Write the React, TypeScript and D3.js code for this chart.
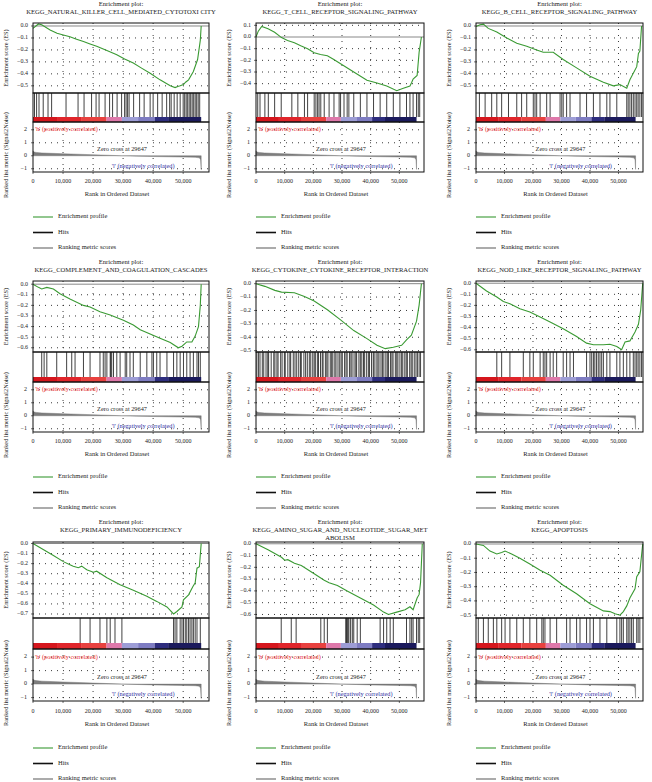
import React from 'react';
import * as d3 from 'd3';

// ---------- DATA ----------
const titles: string[][] = [
  ['Enrichment plot:', 'KEGG_NATURAL_KILLER_CELL_MEDIATED_CYTOTOXI CITY'],
  ['Enrichment plot:', 'KEGG_T_CELL_RECEPTOR_SIGNALING_PATHWAY'],
  ['Enrichment plot:', 'KEGG_B_CELL_RECEPTOR_SIGNALING_PATHWAY'],
  ['Enrichment plot:', 'KEGG_COMPLEMENT_AND_COAGULATION_CASCADES'],
  ['Enrichment plot:', 'KEGG_CYTOKINE_CYTOKINE_RECEPTOR_INTERACTION'],
  ['Enrichment plot:', 'KEGG_NOD_LIKE_RECEPTOR_SIGNALING_PATHWAY'],
  ['Enrichment plot:', 'KEGG_PRIMARY_IMMUNODEFICIENCY'],
  ['Enrichment plot:', 'KEGG_AMINO_SUGAR_AND_NUCLEOTIDE_SUGAR_MET', 'ABOLISM'],
  ['Enrichment plot:', 'KEGG_APOPTOSIS'],
];

// ES curves: [rank (thousands), enrichment score]
const es1 = [[0,-0.02],[1.8,0.017],[2.9,0.01],[5.7,-0.033],[8,-0.06],[10.1,-0.075],[12.3,-0.09],[14.5,-0.11],[16.8,-0.13],[19,-0.15],[21.2,-0.17],[24.6,-0.205],[27.9,-0.24],[30.5,-0.275],[33.4,-0.31],[36,-0.35],[39,-0.395],[42.3,-0.45],[45.7,-0.5],[47.3,-0.515],[48.2,-0.505],[49,-0.5],[50.1,-0.49],[50.8,-0.47],[51.8,-0.45],[53.4,-0.38],[54.8,-0.28],[55.7,-0.12],[56,0]];
const es2 = [[0,0],[0.8,0.05],[2,0.09],[4.2,0.07],[6.5,0.04],[8.9,-0.005],[11,-0.03],[13.4,-0.05],[15.6,-0.075],[18,-0.1],[20.3,-0.135],[22.5,-0.15],[24.9,-0.16],[27,-0.19],[29.5,-0.23],[34.1,-0.3],[38.7,-0.37],[42.2,-0.395],[45.6,-0.42],[49.1,-0.46],[51.4,-0.44],[53.7,-0.42],[54.3,-0.39],[54.8,-0.36],[56.2,-0.33],[56.9,-0.13],[57.7,0]];
const es3 = [[0,-0.005],[1.4,0.01],[2.6,0.015],[4.3,-0.02],[7.3,-0.05],[10.8,-0.1],[14.3,-0.145],[17.8,-0.17],[21.3,-0.2],[23.6,-0.22],[27.1,-0.22],[30.6,-0.28],[35.3,-0.35],[40,-0.42],[44.7,-0.47],[48.2,-0.5],[50.5,-0.49],[52.9,-0.52],[54,-0.45],[56.4,-0.34],[57,-0.23],[57.5,-0.21],[58.1,0]];
const es4 = [[0,0],[1.8,-0.03],[2.9,-0.045],[4.6,-0.03],[6.8,-0.045],[9,-0.09],[12.3,-0.14],[16.8,-0.2],[19,-0.215],[22.3,-0.26],[25.7,-0.29],[30.1,-0.34],[33.4,-0.385],[35.7,-0.43],[39,-0.47],[42.3,-0.51],[45.7,-0.55],[48.4,-0.6],[49.6,-0.585],[51.2,-0.545],[52.9,-0.545],[54,-0.49],[55.1,-0.4],[55.7,-0.2],[56,0]];
const es5 = [[0,0],[3.1,-0.02],[6.6,-0.05],[8.9,-0.063],[13.4,-0.068],[16.9,-0.095],[20.3,-0.13],[24.9,-0.195],[29.5,-0.27],[34.1,-0.35],[38.7,-0.41],[42.2,-0.46],[45.1,-0.485],[47.9,-0.475],[50.8,-0.46],[52.5,-0.42],[54.2,-0.385],[56,-0.28],[56.9,-0.16],[57.7,0]];
const es6 = [[0,0],[3.7,-0.07],[7.3,-0.125],[9.6,-0.165],[11.9,-0.185],[15.4,-0.23],[18.9,-0.26],[22.5,-0.305],[26,-0.35],[30.6,-0.41],[35.3,-0.48],[38.8,-0.54],[41.2,-0.555],[44.7,-0.555],[47,-0.55],[49.4,-0.57],[51.1,-0.6],[52.3,-0.53],[54,-0.52],[55.8,-0.44],[57,-0.37],[57.8,-0.24],[58.5,0]];
const es7 = [[0,0],[3.4,-0.06],[6.8,-0.12],[10.1,-0.18],[12.3,-0.21],[13.4,-0.225],[15.1,-0.24],[16.2,-0.225],[17.9,-0.26],[20.1,-0.285],[21.2,-0.275],[24.6,-0.34],[29,-0.41],[33.4,-0.465],[37.9,-0.525],[41.2,-0.575],[44.6,-0.63],[46.8,-0.7],[47.9,-0.675],[49.6,-0.63],[50.1,-0.56],[51.8,-0.51],[53.2,-0.43],[54,-0.39],[54.6,-0.245],[55.4,-0.23],[56,0]];
const es8 = [[0,0],[4.2,-0.05],[8.9,-0.115],[10,-0.14],[11.1,-0.135],[13.4,-0.165],[15.8,-0.185],[20.3,-0.255],[23.8,-0.31],[25.5,-0.33],[28.4,-0.355],[31.8,-0.4],[36.4,-0.46],[41,-0.52],[44.5,-0.58],[46.2,-0.6],[49.1,-0.58],[52,-0.56],[53.7,-0.535],[54.8,-0.56],[56.2,-0.46],[56.9,-0.43],[57.4,-0.33],[58,0]];
const es9 = [[0,0],[2.6,-0.01],[4.9,-0.05],[7.3,-0.07],[9,-0.06],[10.2,-0.05],[12.5,-0.07],[15.4,-0.1],[18.9,-0.14],[22.5,-0.185],[26,-0.22],[30.6,-0.29],[35.3,-0.35],[40,-0.42],[44.7,-0.47],[47,-0.475],[48.8,-0.49],[50.5,-0.5],[51.7,-0.475],[52.9,-0.435],[54,-0.38],[55.8,-0.315],[56.4,-0.23],[57.5,-0.195],[58.5,0]];

// hit positions (rank, thousands)
const hits1 = [0.5,1.2,2,3.4,5,6.2,11,15,17,19.5,21,22,24,25.5,26.5,28,29.5,30.5,31,31.5,32,33.5,35.5,37,39,40,41.5,43,44.5,45.5,46,47,48,49,50,50.5,51,51.5,52,52.5,53,53.5,54,54.5,55,55.5];
const hits2 = [0.6,1.4,3.1,4.3,6.5,8.8,12.5,14.6,16.9,18,20.3,20.9,21.5,22,22.6,23.8,25.5,27.2,29,29.5,30.7,31.8,32.4,34.1,36.4,38.7,41,43.3,45.6,47.9,50.2,52.5,53.7,54.8,56,56.6,57.1];
const hits3 = [1.2,3.2,5.5,7.3,9,11.4,14.3,16,17.8,20.1,20.7,21.3,22.5,24.8,26,29.5,30.1,30.6,31.8,33,36.5,38.8,41.2,43.5,45.9,47,49.4,52.9,53.4,54,54.6,55.2,55.8,56.4,56.9,57.5,58.1];
const hits4 = [2.9,3.7,4.6,7.9,11.2,12.9,14,16.8,19,22.3,23.4,24,24.6,25.7,25.9,26.2,26.8,27.9,29,30.7,31.2,32.3,33.4,35.7,37.9,39.6,40.1,41.2,42.3,44.6,46.8,47.9,49,50.1,51.2,52.3,53.4,54.6,55.1,55.7];
const hits5 = [0.3,0.9,1.4,2.2,2.7,3.5,4.1,4.4,5.3,6.2,6.6,7.3,7.7,8.6,9.1,9.9,10.2,11.1,11.8,12.1,13,13.6,14.2,14.9,15.5,15.8,16.7,17.3,17.9,18.6,19.1,19.8,20.3,20.7,21.4,21.8,22.5,23.1,23.4,24.2,24.7,25.1,25.9,26.4,26.8,27.5,27.9,28.6,29.2,29.7,30.1,30.9,31.4,31.8,32.6,33.1,33.5,34.2,34.8,35.1,35.9,36.4,36.9,37.5,37.9,38.6,39.2,39.6,40.3,40.9,41.2,41.9,42.5,42.9,43.6,44.1,44.6,45.3,45.8,46.2,46.9,47.4,47.8,48.6,49.1,49.5,50.2,50.8,51.2,51.9,52.4,52.8,53.6,54.1,54.5,55.2,55.8,56.3,56.9,57.4];
const hits6 = [7.3,9,11.9,16.6,18.9,20.1,22.5,23.6,24.2,24.8,26,27.1,28.3,30.6,31.8,33,34.2,38.8,40,40.6,41.2,41.7,42.3,42.9,43.5,44.1,44.7,45.9,47,49.4,50.5,51.7,52.9,54,55.2,55.8,56.4,56.9,57.5,58.1];
const hits7 = [15.7,19,22.3,24.6,25.7,27.3,29.6,46.8,47.3,47.9,49,49.6,50.1,50.7,51.2,51.8,52.3,52.9,53.4,54,54.6,55.7];
const hits8 = [8.8,12.3,14,22.6,23.8,24.9,31.3,31.6,31.8,32.1,32.4,33,33.6,34.1,35.3,36.4,43.3,44.5,45.6,46.8,47.9,52.5,53.7,54.3,54.8,56,56.6,57.1];
const hits9 = [0.8,2.6,4.3,6.1,7.3,9,10.2,11.9,14.3,16.6,18.9,21.3,23.1,23.6,24.2,26,28.3,31.8,33,35.3,36.5,38.8,40,41.2,43.5,45.9,49.4,50.5,51.1,51.7,52.9,53.4,54,54.6,55.2,56.4,56.9,57.5];

// ES axis domains [top, bottom] and tick values
const esDomainTop = [0.025, 0.12, 0.025, 0.03, 0.02, 0.02, 0.015, 0.015, 0.014];
const esDomainBottom = [-0.56, -0.48, -0.56, -0.64, -0.51, -0.62, -0.74, -0.63, -0.52];
const esTickMax = [0.0, 0.1, 0.0, 0.0, 0.0, 0.0, 0.0, 0.0, 0.0];
const esTickMin = [-0.5, -0.4, -0.5, -0.6, -0.5, -0.6, -0.7, -0.6, -0.5];

// ranked list metric (rank thousands, signal2noise)
const rankMetric = [[0,0.38],[0.2,0.3],[1,0.26],[3,0.22],[6,0.19],[10,0.16],[15,0.12],[20,0.08],[25,0.04],[29.647,0],[35,-0.03],[40,-0.06],[45,-0.08],[50,-0.1],[54,-0.12],[55.4,-0.16],[55.8,-0.3],[56,-1.05]];
const datasetSize = 56; // thousands
const xDomainMax = 58.6;
const xTicks = [0, 10000, 20000, 30000, 40000, 50000];
const rankTicks = [2, 1, 0, -1];

// colour bar segments
const cbStops = [0, 8, 16, 24.5, 29.6, 35, 40.5, 45, 56];
const cbColors = ['#d5161d', '#e0252b', '#e8413f', '#de78aa', '#9d9dd6', '#7e7cc2', '#2e2d7e', '#1b1a5c'];

const legendLabels = ['Enrichment profile', 'Hits', 'Ranking metric scores'];

// ---------- LAYOUT ----------
const colX0 = [33, 256, 476];
const colX1 = [209, 424, 643];
const rowTitleY = [4, 262, 522];
const rowEsTop = [23, 281, 542];
const rowEsBot = [93, 352, 618];
const rowHitsBot = [117, 377, 643];
const rowCbBot = [122, 382, 649];
const rowRankBot = [172, 432, 701];
const rowTickY = [182, 442, 712];
const rowXLabelY = [195, 455, 725];
const rowLegendY = [217, 477, 748];

const FONT = '"Liberation Serif", "DejaVu Serif", serif';
const GREEN = '#3a9a33';

const esCurves = [es1, es2, es3, es4, es5, es6, es7, es8, es9];
const hitSets = [hits1, hits2, hits3, hits4, hits5, hits6, hits7, hits8, hits9];

function Panel({ i }: { i: number }) {
  const col = i % 3;
  const row = Math.floor(i / 3);
  const x0 = colX0[col], x1 = colX1[col];
  const esTop = rowEsTop[row], esBot = rowEsBot[row];
  const hitsBot = rowHitsBot[row], cbBot = rowCbBot[row], rankBot = rowRankBot[row];
  const x = d3.scaleLinear().domain([0, xDomainMax * 1000]).range([x0, x1]);
  const y = d3.scaleLinear().domain([esDomainTop[i], esDomainBottom[i]]).range([esTop, esBot]);
  const yr = d3.scaleLinear().domain([2.6, -1.25]).range([cbBot, rankBot]);
  const esTicks = d3.range(Math.round(esTickMax[i] * 10), Math.round(esTickMin[i] * 10) - 1, -1).map((v) => v / 10);
  const line = d3.line<number[]>().x((d) => x(d[0] * 1000)).y((d) => y(d[1]));
  const area = d3.area<number[]>().x((d) => x(d[0] * 1000)).y0(yr(0)).y1((d) => yr(d[1]));
  const fmt = d3.format(',');
  const cx = (x0 + x1) / 2;
  const tl = titles[i];
  const xEnd = x(datasetSize * 1000);

  return (
    <g fontFamily={FONT}>
      {tl.map((t, k) => (
        <text key={k} x={cx} y={rowTitleY[row] + k * 8} textAnchor="middle" dominantBaseline="middle" fontSize={6.6} fill="#222">{t}</text>
      ))}
      {/* ES panel grid */}
      {esTicks.filter((v) => v !== 0).map((v) => (
        <line key={'h' + v} x1={x0} x2={x1} y1={y(v)} y2={y(v)} stroke="#222" strokeWidth={0.9} strokeDasharray="1,5" />
      ))}
      {xTicks.slice(1).map((v) => (
        <line key={'v' + v} x1={x(v)} x2={x(v)} y1={esTop} y2={esBot} stroke="#222" strokeWidth={0.9} strokeDasharray="1,5" />
      ))}
      <line x1={x0} x2={x1} y1={y(0)} y2={y(0)} stroke="#888" strokeWidth={1} />
      <path d={line(esCurves[i]) || ''} fill="none" stroke={GREEN} strokeWidth={1.1} />
      <rect x={x0} y={esTop} width={x1 - x0} height={esBot - esTop} fill="none" stroke="#111" strokeWidth={1} />
      {esTicks.map((v) => (
        <g key={'t' + v}>
          <line x1={x0 - 2} x2={x0} y1={y(v)} y2={y(v)} stroke="#111" strokeWidth={0.6} />
          <text x={x0 - 5} y={y(v)} textAnchor="end" dominantBaseline="middle" fontSize={6} fill="#222">{v === 0 ? '0.0' : d3.format('.1f')(v).replace('-', '\u2212')}</text>
        </g>
      ))}
      <text transform={`translate(${x0 - 26},${(esTop + esBot) / 2}) rotate(-90)`} textAnchor="middle" dominantBaseline="middle" fontSize={6.3} fill="#222">Enrichment score (ES)</text>
      {/* hits */}
      {hitSets[i].map((h, k) => (
        <line key={'hit' + k} x1={x(h * 1000)} x2={x(h * 1000)} y1={esBot} y2={hitsBot} stroke="#111" strokeWidth={0.8} />
      ))}
      {/* colour bar */}
      {cbColors.map((c, k) => (
        <rect key={'cb' + k} x={x(cbStops[k] * 1000)} y={hitsBot} width={x(cbStops[k + 1] * 1000) - x(cbStops[k] * 1000)} height={cbBot - hitsBot} fill={c} />
      ))}
      <rect x={x0} y={esBot} width={x1 - x0} height={cbBot - esBot} fill="none" stroke="#111" strokeWidth={1} />
      {/* ranked metric */}
      {[2, 1, -1].map((v) => (
        <line key={'rh' + v} x1={x0} x2={x1} y1={yr(v)} y2={yr(v)} stroke="#222" strokeWidth={0.9} strokeDasharray="1,5" />
      ))}
      {xTicks.slice(1).map((v) => (
        <line key={'rv' + v} x1={x(v)} x2={x(v)} y1={cbBot} y2={rankBot} stroke="#222" strokeWidth={0.9} strokeDasharray="1,5" />
      ))}
      <path d={area(rankMetric) || ''} fill="#7d7d7d" stroke="#6a6a6a" strokeWidth={0.4} />
      <rect x={x0} y={cbBot} width={x1 - x0} height={rankBot - cbBot} fill="none" stroke="#111" strokeWidth={1} />
      <text x={x0 + 2} y={yr(2)} dominantBaseline="middle" fontSize={6.3} fill="#e8201c">'h' (positively correlated)</text>
      <text x={x(29647)} y={yr(0.5)} textAnchor="middle" dominantBaseline="middle" fontSize={6.3} fill="#222">Zero cross at 29647</text>
      <text x={x(36700)} y={yr(-0.8)} textAnchor="middle" dominantBaseline="middle" fontSize={6.3} fill="#2b2ba0">'l' (negatively correlated)</text>
      {rankTicks.map((v) => (
        <g key={'rt' + v}>
          <line x1={x0 - 2} x2={x0} y1={yr(v)} y2={yr(v)} stroke="#111" strokeWidth={0.6} />
          <text x={x0 - 6} y={yr(v)} textAnchor="end" dominantBaseline="middle" fontSize={6} fill="#222">{v < 0 ? '\u2212' + Math.abs(v) : v}</text>
        </g>
      ))}
      <text transform={`translate(${x0 - 26},${(cbBot + rankBot) / 2 + 8}) rotate(-90)`} textAnchor="middle" dominantBaseline="middle" fontSize={6.3} fill="#222">Ranked list metric (Signal2Noise)</text>
      {xTicks.map((v) => (
        <g key={'xt' + v}>
          <line x1={x(v)} x2={x(v)} y1={rankBot} y2={rankBot + 2} stroke="#111" strokeWidth={0.6} />
          <text x={x(v)} y={rowTickY[row]} textAnchor="middle" dominantBaseline="middle" fontSize={6} fill="#222">{fmt(v)}</text>
        </g>
      ))}
      <text x={cx - 4} y={rowXLabelY[row]} textAnchor="middle" dominantBaseline="middle" fontSize={6.5} fill="#222">Rank in Ordered Dataset</text>
      {/* legend */}
      {legendLabels.map((lab, k) => (
        <g key={'lg' + k}>
          <line x1={x0} x2={x0 + 20} y1={rowLegendY[row] + k * 15.5} y2={rowLegendY[row] + k * 15.5}
            stroke={k === 0 ? GREEN : k === 1 ? '#111' : '#666'} strokeWidth={k === 1 ? 1.6 : 1.1} />
          <text x={x0 + 25} y={rowLegendY[row] + k * 15.5} dominantBaseline="middle" fontSize={6.5} fill="#222">{lab}</text>
        </g>
      ))}
      <rect x={xEnd} y={hitsBot} width={0} height={0} fill="none" />
    </g>
  );
}

export default function App() {
  return (
    <svg width={652} height={782} style={{ position: 'absolute', left: 0, top: 0, background: '#fff' }}>
      <rect width={652} height={782} fill="#fff" />
      {d3.range(9).map((i) => <Panel key={i} i={i} />)}
    </svg>
  );
}
